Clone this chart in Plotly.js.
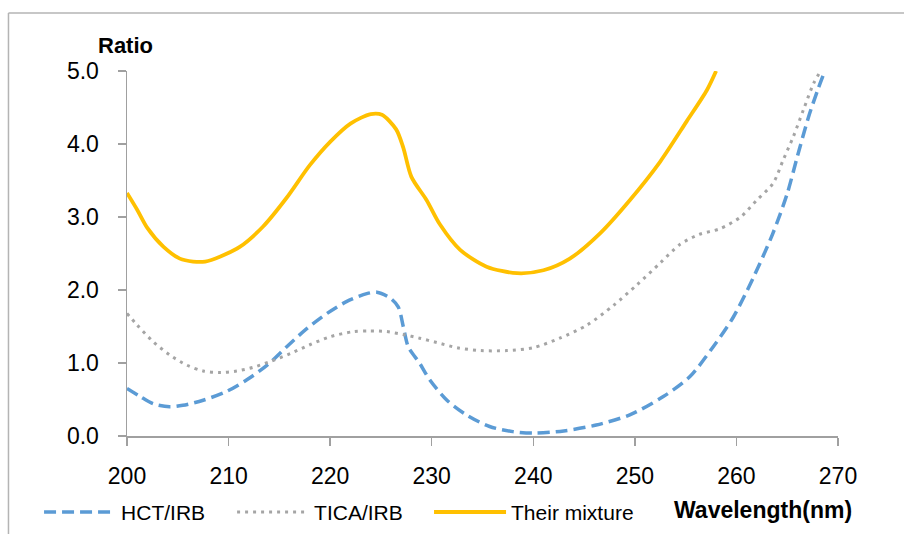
<!DOCTYPE html>
<html>
<head>
<meta charset="utf-8">
<script src="https://cdn.plot.ly/plotly-3.0.1.min.js"></script>
<style>html,body{margin:0;padding:0;background:#fff;}#chart{width:904px;height:534px;}</style>
</head>
<body>
<div id="chart"></div>
<script>
// Wavelength (nm) and ratio values
const hctX = [200, 201.3, 202.6, 204.2, 205.5, 207.5, 209.8, 211.8, 213.8, 215.7, 217.7, 219.7, 221.6, 223.6, 224.6, 225.9, 226.7, 227.2, 227.7, 228.8, 229.8, 231.5, 233.4, 235.7, 238, 240, 243, 246.2, 249.5, 252.8, 255.4, 257.7, 259.7, 261.7, 263.6, 265, 266, 267.1, 268, 268.7];
const hctY = [0.65, 0.54, 0.44, 0.40, 0.42, 0.49, 0.61, 0.77, 0.97, 1.22, 1.47, 1.68, 1.84, 1.95, 1.97, 1.89, 1.77, 1.50, 1.22, 1.00, 0.77, 0.49, 0.29, 0.13, 0.06, 0.04, 0.07, 0.15, 0.29, 0.54, 0.81, 1.22, 1.63, 2.18, 2.78, 3.32, 3.83, 4.37, 4.74, 5.0];

const ticaX = [200, 201, 202.6, 204.2, 205.9, 207.5, 209.2, 210.8, 212.4, 214.1, 216.1, 218, 220, 222.3, 223.9, 225.6, 227.2, 228.8, 230.5, 232.5, 234.8, 237.4, 240, 242.6, 245.3, 247.9, 250.2, 252.5, 254.4, 256.3, 258.4, 260.4, 262, 263.6, 264.6, 265.6, 266.6, 267.6, 268.3];
const ticaY = [1.68, 1.52, 1.29, 1.11, 0.97, 0.89, 0.87, 0.89, 0.94, 1.02, 1.13, 1.25, 1.36, 1.43, 1.44, 1.43, 1.39, 1.34, 1.28, 1.21, 1.17, 1.17, 1.21, 1.34, 1.52, 1.79, 2.07, 2.37, 2.62, 2.76, 2.84, 3.00, 3.23, 3.46, 3.78, 4.10, 4.47, 4.83, 5.0];

const mixX = [200, 201, 202, 203.6, 205.2, 206.5, 207.7, 209.2, 211.1, 213.4, 215.7, 218, 220, 222, 224, 225.1, 226.5, 227.2, 228, 229.5, 230.8, 232.8, 235.4, 238.4, 241, 243.6, 246.6, 249.5, 252.5, 255.1, 257.1, 258];
const mixY = [3.33, 3.10, 2.85, 2.59, 2.43, 2.39, 2.39, 2.46, 2.59, 2.87, 3.26, 3.71, 4.03, 4.28, 4.41, 4.40, 4.20, 3.95, 3.55, 3.23, 2.90, 2.55, 2.32, 2.23, 2.27, 2.43, 2.78, 3.23, 3.76, 4.31, 4.74, 5.0];

const seriesNames = ["HCT/IRB", "TICA/IRB", "Their mixture"];
const xTicks = [200, 210, 220, 230, 240, 250, 260, 270];
const yTicks = [0, 1, 2, 3, 4, 5];
const yTickText = ["0.0", "1.0", "2.0", "3.0", "4.0", "5.0"];

const FONT = "Liberation Sans, Arial, sans-serif";
const AX = "#a0a0a0";

const traces = [
  {x: hctX, y: hctY, name: seriesNames[0], type: "scatter", mode: "lines", legend: "legend",
   line: {color: "#5B9BD5", width: 3.5, dash: "12px,6px", shape: "spline", smoothing: 0.8}},
  {x: ticaX, y: ticaY, name: seriesNames[1], type: "scatter", mode: "lines", legend: "legend2",
   line: {color: "#A5A5A5", width: 3, dash: "3px,5px", shape: "spline", smoothing: 0.8}},
  {x: mixX, y: mixY, name: seriesNames[2], type: "scatter", mode: "lines", legend: "legend3",
   line: {color: "#FFC000", width: 3.8, shape: "spline", smoothing: 0.8}}
];

function leg(x) {
  return {orientation: "h", x: x, y: -0.153, xanchor: "left", yanchor: "top",
          itemwidth: 72, font: {family: FONT, size: 21, color: "#000"},
          bgcolor: "rgba(0,0,0,0)"};
}

const layout = {
  width: 904, height: 534,
  margin: {l: 127, r: 66, t: 71, b: 98, autoexpand: false},
  paper_bgcolor: "#fff", plot_bgcolor: "#fff",
  font: {family: FONT, size: 21, color: "#000"},
  showlegend: true,
  legend: leg(-0.1237),
  legend2: leg(0.1478),
  legend3: leg(0.4248),
  xaxis: {range: [200, 270], tickvals: xTicks, ticktext: xTicks.map(String),
          showgrid: false, zeroline: false, showline: true, linecolor: AX, linewidth: 1.5,
          ticks: "outside", ticklen: 8, tickcolor: AX, tickwidth: 1.5,
          ticklabelstandoff: 11, automargin: false,
          tickfont: {family: FONT, size: 23, color: "#000"}, fixedrange: true},
  yaxis: {range: [0, 5], tickvals: yTicks, ticktext: yTickText,
          showgrid: false, zeroline: false, showline: true, linecolor: AX, linewidth: 1.5,
          ticks: "outside", ticklen: 8, tickcolor: AX, tickwidth: 1.5,
          ticklabelstandoff: 14, automargin: false,
          tickfont: {family: FONT, size: 23, color: "#000"}, fixedrange: true},
  xaxis2: {overlaying: "x", anchor: "y", side: "bottom", range: [200, 270], tickvals: xTicks,
           showticklabels: false, showgrid: false, zeroline: false, showline: false,
           ticks: "inside", ticklen: 8, tickcolor: AX, tickwidth: 1.5, fixedrange: true},
  yaxis2: {overlaying: "y", anchor: "x", side: "left", range: [0, 5], tickvals: yTicks,
           showticklabels: false, showgrid: false, zeroline: false, showline: false,
           ticks: "inside", ticklen: 8, tickcolor: AX, tickwidth: 1.5, fixedrange: true},
  annotations: [
    {text: "<b>Ratio</b>", xref: "paper", yref: "paper", x: -0.0436, y: 1.071,
     xanchor: "left", yanchor: "middle", showarrow: false,
     font: {family: FONT, size: 22, color: "#000"}},
    {text: "<b>Wavelength(nm)</b>", xref: "paper", yref: "paper", x: 0.766, y: -0.2027,
     xanchor: "left", yanchor: "middle", showarrow: false,
     font: {family: FONT, size: 23, color: "#000"}}
  ],
  shapes: [
    {type: "line", xref: "paper", yref: "paper", x0: -0.1667, x1: 1.2, y0: 1.1589, y1: 1.1589,
     line: {color: "#b4b4b4", width: 1.5}, layer: "below"},
    {type: "line", xref: "paper", yref: "paper", x0: -0.1667, x1: -0.1667, y0: 1.1589, y1: -0.4,
     line: {color: "#b4b4b4", width: 1.5}, layer: "below"}
  ]
};

Plotly.newPlot("chart", traces, layout, {displayModeBar: false, staticPlot: true});
</script>
</body>
</html>
